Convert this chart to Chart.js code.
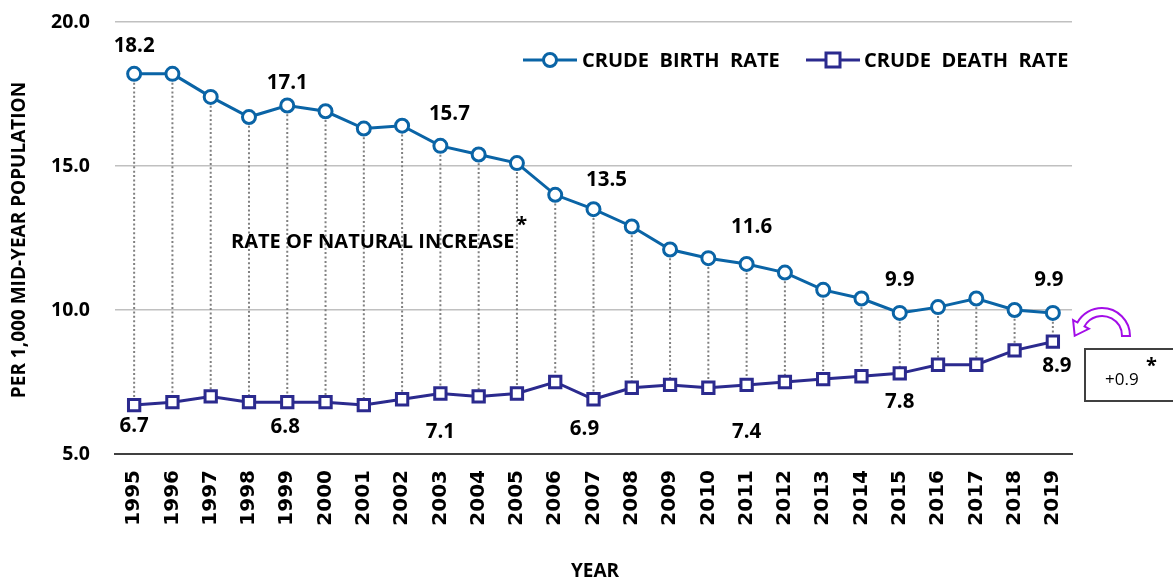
<!DOCTYPE html>
<html>
<head>
<meta charset="utf-8">
<script src="https://cdn.jsdelivr.net/npm/chart.js@4.4.1/dist/chart.umd.min.js"></script>
<style>
  body { margin: 0; background: #fff; }
  canvas { display: block; }
</style>
</head>
<body>
<canvas id="rates" width="1173" height="580"></canvas>
<script>
// data
const years = ["1995", "1996", "1997", "1998", "1999", "2000", "2001", "2002", "2003", "2004", "2005", "2006",
    "2007", "2008", "2009", "2010", "2011", "2012", "2013", "2014", "2015", "2016", "2017", "2018", "2019"];
const birthRate = [18.2, 18.2, 17.4, 16.7, 17.1, 16.9, 16.3, 16.4, 15.7, 15.4, 15.1, 14.0,
    13.5, 12.9, 12.1, 11.8, 11.6, 11.3, 10.7, 10.4, 9.9, 10.1, 10.4, 10.0, 9.9];
const deathRate = [6.7, 6.8, 7.0, 6.8, 6.8, 6.8, 6.7, 6.9, 7.1, 7.0, 7.1, 7.5,
    6.9, 7.3, 7.4, 7.3, 7.4, 7.5, 7.6, 7.7, 7.8, 8.1, 8.1, 8.6, 8.9];
const labelledYears = ["1995", "1999", "2003", "2007", "2011", "2015", "2019"];
const yTicks = [5, 10, 15, 20];
const naturalIncrease = "+0.9";

const BIRTH_COL = "#0a64a6";
const DEATH_COL = "#2b2a8e";
const FONT = "'Open Sans', Lato, sans-serif";

// label nudges (px) so the numbers sit where the original puts them
const birthShift = { "1995": [0, -28], "1999": [0, -22], "2003": [9, -32], "2007": [13, -29], "2011": [5, -37], "2015": [0, -33], "2019": [-4, -33] };
const deathShift = { "1995": [0, 21], "1999": [-2, 25], "2003": [0, 39], "2007": [-9, 30], "2011": [0, 47], "2015": [0, 29], "2019": [4, 24] };

const overlay = {
    id: "overlay",
    beforeDatasetsDraw(chart) {
        const { ctx, scales: { x, y } } = chart;
        ctx.save();
        ctx.strokeStyle = "#808080";
        ctx.lineWidth = 2;
        ctx.setLineDash([2, 2.4]);
        for (let i = 0; i < years.length; i++) {
            const px = x.getPixelForValue(i);
            ctx.beginPath();
            ctx.moveTo(px, y.getPixelForValue(birthRate[i]));
            ctx.lineTo(px, y.getPixelForValue(deathRate[i]));
            ctx.stroke();
        }
        ctx.restore();
    },
    afterDatasetsDraw(chart) {
        const { ctx, scales: { x, y } } = chart;
        ctx.save();
        ctx.fillStyle = "#000";
        ctx.textAlign = "center";
        ctx.textBaseline = "middle";
        ctx.font = "bold 20.5px " + FONT;
        labelledYears.forEach(yr => {
            const i = years.indexOf(yr);
            const px = x.getPixelForValue(i);
            const b = birthShift[yr], d = deathShift[yr];
            ctx.fillText(birthRate[i].toFixed(1), px + b[0], y.getPixelForValue(birthRate[i]) + b[1]);
            ctx.fillText(deathRate[i].toFixed(1), px + d[0], y.getPixelForValue(deathRate[i]) + d[1]);
        });

        // text in the plot
        ctx.font = "bold 20px " + FONT;
        ctx.textAlign = "left";
        const note = "RATE OF NATURAL INCREASE";
        ctx.fillText(note, 231, 242);
        ctx.fillText("*", 231 + ctx.measureText(note).width + 2, 225);

        // legend
        ctx.lineWidth = 3;
        ctx.strokeStyle = BIRTH_COL;
        ctx.beginPath(); ctx.moveTo(523, 60); ctx.lineTo(577, 60); ctx.stroke();
        ctx.fillStyle = "#fff";
        ctx.beginPath(); ctx.arc(550, 60, 6.5, 0, Math.PI * 2); ctx.fill(); ctx.stroke();
        ctx.strokeStyle = DEATH_COL;
        ctx.beginPath(); ctx.moveTo(806, 60); ctx.lineTo(860, 60); ctx.stroke();
        ctx.fillRect(826, 53, 14, 14); ctx.strokeRect(826, 53, 14, 14);
        ctx.fillStyle = "#000";
        ctx.font = "bold 20px " + FONT;
        ctx.fillText("CRUDE  BIRTH  RATE", 582, 61);
        ctx.fillText("CRUDE  DEATH  RATE", 864, 61);

        // axis titles
        ctx.font = "bold 19px " + FONT;
        ctx.textAlign = "center";
        ctx.fillText("YEAR", 595, 572);
        ctx.translate(20, 240);
        ctx.rotate(-Math.PI / 2);
        ctx.fillText("PER 1,000 MID-YEAR POPULATION", 0, 0);
        ctx.restore();

        // curved arrow and the +0.9 box
        ctx.save();
        const cx = 1102, cy = 336, ro = 28, ri = 20, a = -Math.PI * 0.84;
        const rm = (ro + ri) / 2;
        const dir = [Math.cos(a), Math.sin(a)];
        const tan = [Math.sin(a), -Math.cos(a)];
        ctx.beginPath();
        ctx.arc(cx, cy, ro, 0, a, true);
        ctx.lineTo(cx + dir[0] * (ro + 5), cy + dir[1] * (ro + 5));
        ctx.lineTo(cx + dir[0] * rm + tan[0] * 13, cy + dir[1] * rm + tan[1] * 13);
        ctx.lineTo(cx + dir[0] * (ri - 5), cy + dir[1] * (ri - 5));
        ctx.arc(cx, cy, ri, a, 0, false);
        ctx.closePath();
        ctx.fillStyle = "#fff";
        ctx.fill();
        ctx.strokeStyle = "#a30de8";
        ctx.lineWidth = 2;
        ctx.stroke();

        ctx.strokeStyle = "#404040";
        ctx.lineWidth = 2;
        ctx.strokeRect(1085, 349, 90, 52);
        ctx.fillStyle = "#000";
        ctx.font = "17px " + FONT;
        ctx.textAlign = "left";
        ctx.textBaseline = "middle";
        ctx.fillText(naturalIncrease, 1105, 380);
        ctx.font = "bold 20px " + FONT;
        ctx.fillText("*", 1146, 366);
        ctx.restore();
    }
};

new Chart("rates", {
    type: "line",
    data: {
        labels: years,
        datasets: [
            {
                label: "CRUDE  BIRTH  RATE",
                data: birthRate,
                borderColor: BIRTH_COL,
                backgroundColor: "#fff",
                borderWidth: 3,
                pointStyle: "circle",
                pointRadius: 6.5,
                pointBorderWidth: 3,
                tension: 0
            },
            {
                label: "CRUDE  DEATH  RATE",
                data: deathRate,
                borderColor: DEATH_COL,
                backgroundColor: "#fff",
                borderWidth: 3,
                pointStyle: "rect",
                pointRadius: 8,
                pointBorderWidth: 3,
                tension: 0
            }
        ]
    },
    options: {
        responsive: false,
        animation: false,
        layout: { padding: { top: 22, right: 101, left: 0, bottom: 0 } },
        plugins: {
            legend: { display: false },
            tooltip: { enabled: false }
        },
        scales: {
            x: {
                offset: true,
                grid: { display: false, drawTicks: false },
                border: { display: true, color: "#404040", width: 2 },
                ticks: {
                    autoSkip: false,
                    minRotation: 90,
                    maxRotation: 90,
                    padding: 16,
                    color: "#000",
                    font: { family: "'DejaVu Sans'", weight: "bold", size: 20 }
                },
                afterFit(scale) { scale.height = 126; }
            },
            y: {
                min: 5,
                max: 20,
                afterBuildTicks(scale) { scale.ticks = yTicks.map(v => ({ value: v })); },
                grid: {
                    drawTicks: false,
                    color: ctx => ctx.tick && ctx.tick.value === 5 ? "rgba(0,0,0,0)" : "#c0c0c0",
                    lineWidth: 1.5
                },
                border: { display: false },
                ticks: {
                    padding: 25,
                    color: "#000",
                    font: { family: FONT, weight: "bold", size: 19.5 },
                    callback: v => Number(v).toFixed(1)
                },
                afterFit(scale) {
                    scale.width = 115;
                    scale.paddingTop = 12;
                    scale.paddingBottom = 12;
                }
            }
        }
    },
    plugins: [overlay]
});
</script>
</body>
</html>
